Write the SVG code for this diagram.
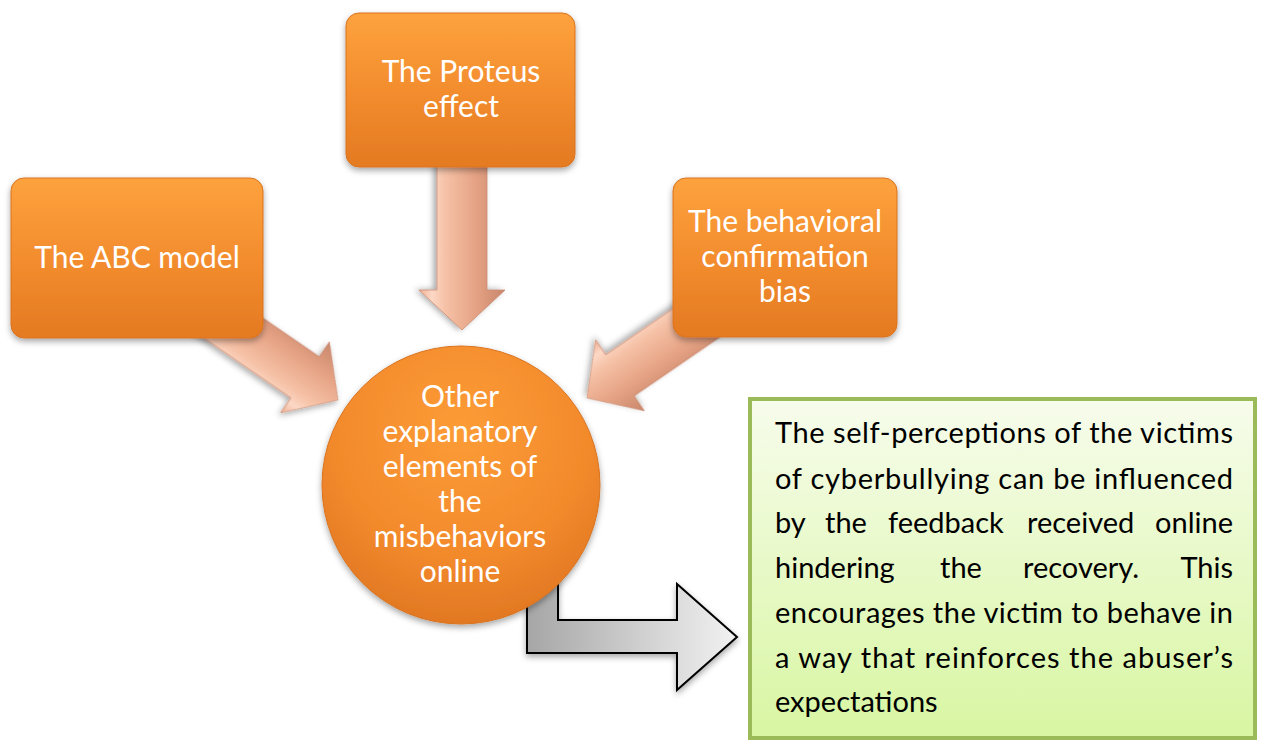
<svg xmlns="http://www.w3.org/2000/svg" width="1267" height="740" viewBox="0 0 1267 740">
<style>
.lbl{font-family:Lato,"Liberation Sans",sans-serif;font-size:30px;fill:#ffffff;text-anchor:middle}
.body{font-family:Lato,"Liberation Sans",sans-serif;font-size:29px;fill:#000000}
.end{text-anchor:end}
.box{fill:url(#org);stroke:#d9731f;stroke-width:1}
.sal{fill:url(#sal);stroke:#c98b72;stroke-width:0.8}
</style>
<defs>
<linearGradient id="org" x1="0" y1="0" x2="0" y2="1">
<stop offset="0" stop-color="#fda23e"/>
<stop offset="0.5" stop-color="#f38d2e"/>
<stop offset="1" stop-color="#e47a22"/>
</linearGradient>
<radialGradient id="orgc" cx="0.5" cy="0.3" r="0.75">
<stop offset="0" stop-color="#fc9c36"/>
<stop offset="0.6" stop-color="#f38a2c"/>
<stop offset="1" stop-color="#de7421"/>
</radialGradient>
<linearGradient id="sal" gradientUnits="userSpaceOnUse" x1="0" y1="-43" x2="0" y2="43">
<stop offset="0" stop-color="#c8866b"/>
<stop offset="0.35" stop-color="#e6a385"/>
<stop offset="0.7" stop-color="#f6c2a7"/>
<stop offset="0.85" stop-color="#fcd8c6"/>
<stop offset="1" stop-color="#efb093"/>
</linearGradient>
<linearGradient id="grey" x1="0" y1="0" x2="1" y2="0">
<stop offset="0" stop-color="#a6a6a6"/>
<stop offset="1" stop-color="#f2f2f2"/>
</linearGradient>
<linearGradient id="green" x1="0" y1="0" x2="0" y2="1">
<stop offset="0" stop-color="#f7fcec"/>
<stop offset="1" stop-color="#d8f6a2"/>
</linearGradient>
<filter id="sh" x="-20%" y="-20%" width="140%" height="150%">
<feDropShadow dx="0" dy="3" stdDeviation="3" flood-color="#000" flood-opacity="0.35"/>
</filter>
</defs>
<rect width="1267" height="740" fill="#ffffff"/>

<g id="connectors">
<path id="arrow-proteus" class="sal" filter="url(#sh)" transform="translate(462,330) rotate(90)" d="M0,0 L-40,-43 L-40,-25 L-180,-25 L-180,25 L-40,25 L-40,43 Z"/>
<path id="arrow-abc" class="sal" filter="url(#sh)" transform="translate(338,400) rotate(34.5)" d="M0,0 L-40,-43 L-40,-25 L-210,-25 L-210,25 L-40,25 L-40,43 Z"/>
<path id="arrow-bias" class="sal" filter="url(#sh)" transform="translate(587,398) rotate(145.5)" d="M0,0 L-40,-43 L-40,-25 L-210,-25 L-210,25 L-40,25 L-40,43 Z"/>
<path id="arrow-out" filter="url(#sh)" fill="url(#grey)" stroke="#000" stroke-width="2" stroke-linejoin="miter" d="M527,560 L558,560 L558,620 L677,620 L677,584 L737,637 L677,690 L677,653 L527,653 Z"/>
</g>

<g id="node-abc">
<rect class="box" filter="url(#sh)" x="11" y="178" width="252" height="160" rx="13"/>
<text class="lbl" x="137" y="268">The ABC model</text>
</g>

<g id="node-proteus">
<rect class="box" filter="url(#sh)" x="346" y="13" width="229" height="154" rx="13"/>
<text class="lbl" x="461" y="82">The Proteus</text>
<text class="lbl" x="461" y="117">effect</text>
</g>

<g id="node-bias">
<rect class="box" filter="url(#sh)" x="673" y="178" width="224" height="159" rx="13"/>
<text class="lbl" x="785" y="232">The behavioral</text>
<text class="lbl" x="785" y="267">confirmation</text>
<text class="lbl" x="785" y="302">bias</text>
</g>

<g id="node-center">
<circle filter="url(#sh)" cx="461" cy="485" r="139" fill="url(#orgc)" stroke="#d9731f" stroke-width="1"/>
<text class="lbl" x="460" y="407">Other</text>
<text class="lbl" x="460" y="442">explanatory</text>
<text class="lbl" x="460" y="477">elements of</text>
<text class="lbl" x="460" y="512">the</text>
<text class="lbl" x="460" y="547">misbehaviors</text>
<text class="lbl" x="460" y="582">online</text>
</g>

<g id="node-text">
<rect x="750" y="399" width="505" height="339" fill="url(#green)" stroke="#9bbb59" stroke-width="4"/>
<text class="body" x="775" y="443" textLength="458" lengthAdjust="spacing">The self-perceptions of the victims</text>
<text class="body" x="775" y="489" textLength="458" lengthAdjust="spacing">of cyberbullying can be influenced</text>
<text class="body" y="533"><tspan x="775">by</tspan><tspan x="825">the</tspan><tspan x="888">feedback</tspan><tspan x="1027">received</tspan></text>
<text class="body end" x="1233" y="533">online</text>
<text class="body" y="578"><tspan x="775">hindering</tspan><tspan x="940">the</tspan><tspan x="1023">recovery.</tspan></text>
<text class="body end" x="1233" y="578">This</text>
<text class="body" x="775" y="623" textLength="458" lengthAdjust="spacing">encourages the victim to behave in</text>
<text class="body" x="775" y="668" textLength="458" lengthAdjust="spacing">a way that reinforces the abuser’s</text>
<text class="body" x="775" y="712">expectations</text>
</g>
</svg>
